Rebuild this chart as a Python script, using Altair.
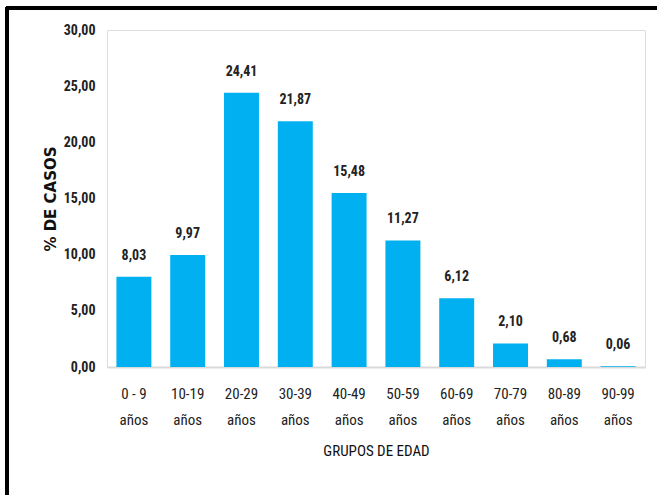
import altair as alt
import pandas as pd

groups = ["0 - 9", "10-19", "20-29", "30-39", "40-49", "50-59", "60-69", "70-79", "80-89", "90-99"]
values = [8.03, 9.97, 24.41, 21.87, 15.48, 11.27, 6.12, 2.10, 0.68, 0.06]

df = pd.DataFrame({"grupo": groups, "pct": values})

NARROW = "Liberation Sans Narrow, Roboto Condensed, DejaVu Sans Condensed, sans-serif"

x = alt.X("grupo:N", sort=groups, title="GRUPOS DE EDAD",
          scale=alt.Scale(paddingInner=0.35, paddingOuter=0.175),
          axis=alt.Axis(labelAngle=0, ticks=False, domainColor="#d9d9d9", domainWidth=2,
                        labelExpr="[datum.label, 'años']", labelLineHeight=26,
                        labelPadding=19, labelFont=NARROW, labelFontSize=15,
                        labelColor="#222", titleFont=NARROW, titleFontSize=15,
                        titleFontWeight="normal", titleColor="#111", titlePadding=16))
y = alt.Y("pct:Q", title="% DE CASOS",
          scale=alt.Scale(domain=[0, 30], nice=False),
          axis=alt.Axis(values=[0, 5, 10, 15, 20, 25, 30], grid=False, ticks=False, domain=False,
                        labelExpr="replace(format(datum.value, '.2f'), '.', ',')",
                        labelFont=NARROW, labelFontSize=14, labelFontWeight="bold",
                        labelColor="#222", labelPadding=12,
                        titleFont="DejaVu Sans", titleFontSize=15, titleFontWeight="bold",
                        titleColor="#111", titlePadding=5))

bars = alt.Chart(df).mark_bar(color="#00B0F0").encode(x=x, y=y)

text = alt.Chart(df).transform_calculate(
    lab="replace(format(datum.pct, '.2f'), '.', ',')"
).mark_text(baseline="bottom", dy=-14, font=NARROW, fontSize=14, fontWeight="bold",
            color="#222").encode(x=alt.X("grupo:N", sort=groups), y="pct:Q", text="lab:N")

frame_top = alt.Chart(df).mark_rule(color="black", strokeWidth=3).encode(
    x=alt.value(-101), x2=alt.value(560), y=alt.value(-22))
frame_left = alt.Chart(df).mark_rule(color="black", strokeWidth=3).encode(
    x=alt.value(-100), y=alt.value(-23), y2=alt.value(470))

chart = alt.layer(bars, text, frame_top, frame_left).properties(
    width=538, height=337,
    autosize=alt.AutoSizeParams(type="none"),
    padding={"left": 107, "top": 30, "right": 12, "bottom": 128},
).configure_view(stroke=None).configure(background="white")

chart.save("out.html", embed_options={"renderer": "svg", "actions": False})
